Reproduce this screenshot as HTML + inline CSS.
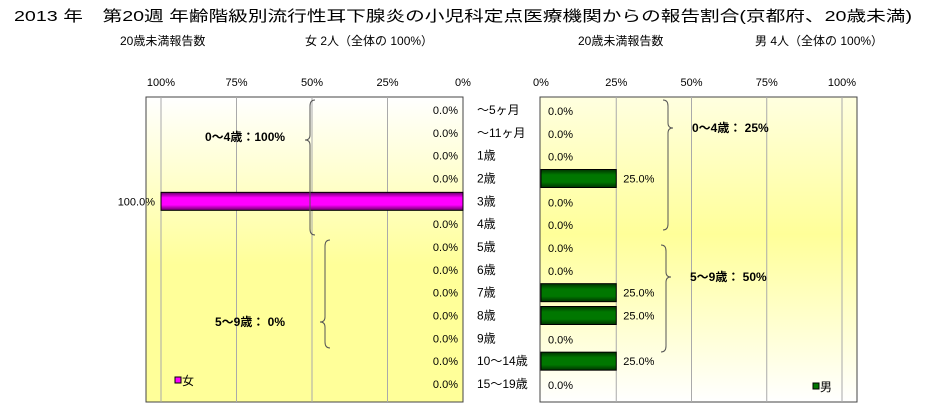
<!DOCTYPE html>
<html><head><meta charset="utf-8"><style>
body{margin:0;background:#fff}
svg{display:block;font-family:"Liberation Sans","Noto Sans CJK JP",sans-serif}
</style></head><body>
<svg id="c" width="949" height="417" viewBox="0 0 949 417" xmlns="http://www.w3.org/2000/svg">
<defs>
<linearGradient id="gl" x1="0" y1="0" x2="0" y2="1"><stop offset="0" stop-color="#fff"/><stop offset="0.55" stop-color="#ffff99"/><stop offset="1" stop-color="#ffff99"/></linearGradient>
<linearGradient id="gr" x1="0" y1="0" x2="0" y2="1"><stop offset="0" stop-color="#ffffe0"/><stop offset="0.45" stop-color="#ffff99"/><stop offset="1" stop-color="#fff"/></linearGradient>
<linearGradient id="gm" x1="0" y1="0" x2="0" y2="1"><stop offset="0" stop-color="#660066"/><stop offset="0.3" stop-color="#ff00ff"/><stop offset="0.7" stop-color="#ff00ff"/><stop offset="1" stop-color="#660066"/></linearGradient>
<linearGradient id="gg" x1="0" y1="0" x2="0" y2="1"><stop offset="0" stop-color="#003300"/><stop offset="0.3" stop-color="#007700"/><stop offset="0.7" stop-color="#007700"/><stop offset="1" stop-color="#003300"/></linearGradient>
</defs>
<text x="14" y="21" font-size="15" textLength="898" lengthAdjust="spacingAndGlyphs">2013 年　第20週 年齢階級別流行性耳下腺炎の小児科定点医療機関からの報告割合(京都府、20歳未満)</text>
<text x="120" y="45" font-size="12">20歳未満報告数</text>
<text x="305" y="45" font-size="12">女 2人（全体の 100%）</text>
<text x="578" y="45" font-size="12">20歳未満報告数</text>
<text x="755" y="45" font-size="12">男 4人（全体の 100%）</text>
<rect x="146" y="97" width="317" height="305" fill="url(#gl)" stroke="#444"/>
<rect x="540" y="97" width="317" height="305" fill="url(#gr)" stroke="#444"/>
<g id="g"></g>
</svg>
<script>
const categories=["～5ヶ月","～11ヶ月","1歳","2歳","3歳","4歳","5歳","6歳","7歳","8歳","9歳","10～14歳","15～19歳"];
const femaleValues=[0,0,0,0,100,0,0,0,0,0,0,0,0];
const maleValues=[0,0,0,25,0,0,0,0,25,25,0,25,0];
const tickValues=[0,25,50,75,100];
const tickLabels=["0%","25%","50%","75%","100%"];
const groupLabels=["0～4歳：100%","5～9歳： 0%","0～4歳： 25%","5～9歳： 50%"];

const NS="http://www.w3.org/2000/svg";
const g=document.getElementById('g');
const xl=v=>463-v*3.02;
const xr=v=>541+v*3.01;
const yc=i=>110+i*22.8;
function mk(t,a,txt){const e=document.createElementNS(NS,t);for(const k in a)e.setAttribute(k,a[k]);if(txt!==undefined)e.textContent=txt;g.appendChild(e);return e;}
tickValues.forEach((v,i)=>{
  if(v>0){let l=mk('line',{x1:xl(v),x2:xl(v),y1:97,y2:402,stroke:'#aaa'});
  
  let r=mk('line',{x1:xr(v),x2:xr(v),y1:97,y2:402,stroke:'#aaa'});
  }
  let t=mk('text',{x:xl(v),y:86,'font-size':11,'text-anchor':'middle'},tickLabels[i]);
  
  let t2=mk('text',{x:xr(v),y:86,'font-size':11,'text-anchor':'middle'},tickLabels[i]);
  
});
const n=categories.length, pitch=(384-110)/(n-1);
categories.forEach((c,i)=>{
  const y=110+i*pitch;
  let t=mk('text',{x:477,y:y+4,'font-size':12},c);
  
  const f=femaleValues[i];
  if(f>0){let b=mk('rect',{x:xl(f),y:y-9,width:xl(0)-xl(f),height:18,fill:'url(#gm)',stroke:'#000'});
    
    let v=mk('text',{x:xl(f)-6,y:y+4,'font-size':11,'text-anchor':'end'},f.toFixed(1)+'%');
    }
  else{let v=mk('text',{x:458,y:y+4,'font-size':11,'text-anchor':'end'},f.toFixed(1)+'%');
    }
  const m=maleValues[i];
  if(m>0){let b=mk('rect',{x:xr(0),y:y-9,width:xr(m)-xr(0),height:18,fill:'url(#gg)',stroke:'#000'});
    
    let v=mk('text',{x:xr(m)+7,y:y+4,'font-size':11},m.toFixed(1)+'%');
    }
  else{let v=mk('text',{x:548,y:y+5,'font-size':11},m.toFixed(1)+'%');
    }
});
function brace(x,y1,y2,ym,dir){
  const d=dir*5;
  return `M${x+d},${y1} Q${x},${y1} ${x},${y1+6} L${x},${ym-5} Q${x},${ym} ${x-d},${ym} Q${x},${ym} ${x},${ym+5} L${x},${y2-6} Q${x},${y2} ${x+d},${y2}`;
}
const br=[[310,100,235,140,1,205,141,0],[325,240,348,322,1,215,326,1],[668,100,230,128,-1,692,132,2],[666,245,352,277,-1,690,281,3]];
br.forEach(b=>{
  let p=mk('path',{d:brace(b[0],b[1],b[2],b[3],b[4]),fill:'none',stroke:'#555'});
  
  let t=mk('text',{x:b[5],y:b[6],'font-size':12,'font-weight':'bold'},groupLabels[b[7]]);
  
});
let l1=mk('rect',{x:175,y:377,width:6,height:6,fill:'#ff00ff',stroke:'#000'});

let l1t=mk('text',{x:182,y:385,'font-size':12},'女');

let l2=mk('rect',{x:813,y:383,width:6,height:6,fill:'#007700',stroke:'#000'});

let l2t=mk('text',{x:820,y:391,'font-size':12},'男');

</script>
</body></html>
